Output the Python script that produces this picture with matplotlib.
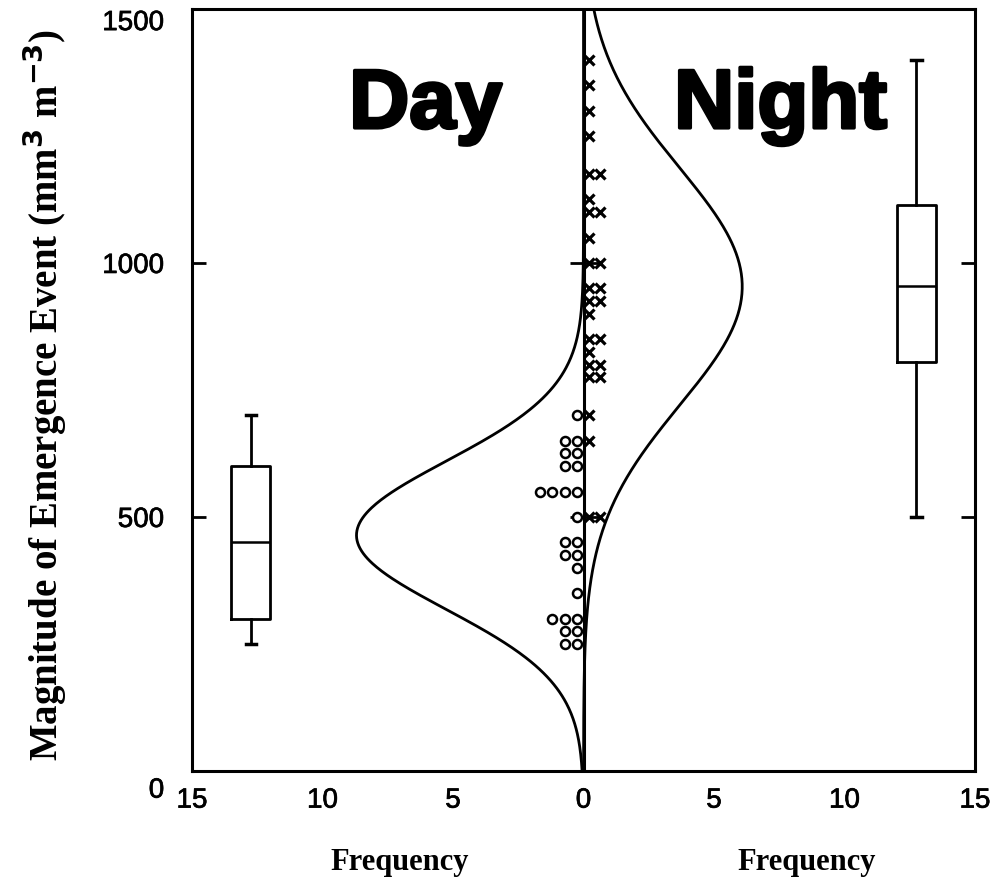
import numpy as np
import matplotlib
matplotlib.use("Agg")
import matplotlib.pyplot as plt
from matplotlib import transforms
from matplotlib import patheffects

# emergence magnitudes (mm3 m-3), one entry per event
day_events = [700, 650, 650, 625, 625, 600, 600, 550, 550, 550, 550, 500,
              450, 450, 425, 425, 400, 350, 300, 300, 300, 275, 275, 250, 250]
night_events = [1400, 1350, 1300, 1250, 1175, 1175, 1125, 1100, 1100, 1050,
                1000, 1000, 950, 950, 925, 925, 900, 850, 850, 825, 800, 800,
                775, 775, 700, 650, 500, 500]

# box plot summaries: whislo, q1, median, q3, whishi
day_box = [250, 300, 450, 600, 700]
night_box = [500, 805, 955, 1115, 1400]

bin_width = 127
xtick_pos = [-15, -10, -5, 0, 5, 10, 15]
xtick_labels = ["15", "10", "5", "0", "5", "10", "15"]
ytick_pos = [0, 500, 1000, 1500]

sans = "Liberation Sans"
serif = "Liberation Serif"
heavy = [patheffects.withStroke(linewidth=2.5, foreground="black")]
medium = [patheffects.withStroke(linewidth=0.5, foreground="black")]

fig = plt.figure(figsize=(9.94, 8.88), dpi=100)
ax = fig.add_axes([0.1932, 0.1318, 0.7877, 0.8581])
ax.set_xlim(-15, 15)
ax.set_ylim(0, 1500)


def stack_x(values, start, step):
    # place repeated values side by side like a dot histogram
    seen = {}
    xs = []
    for v in values:
        k = seen.get(v, 0)
        seen[v] = k + 1
        xs.append(start + step * k)
    return xs


dx = stack_x(day_events, -0.25, -0.47)
nx = stack_x(night_events, 0.2, 0.45)
ax.plot(dx, day_events, "o", ms=6.5, mfc="white", mec="black", mew=1.8,
        zorder=4)
ax.plot(nx, night_events, "x", ms=7.5, mec="black", mew=2.3, zorder=4)

# fitted normal curves scaled to the frequency axis
yy = np.linspace(0, 1500, 600)
for ev, sign in ((day_events, -1), (night_events, 1)):
    ev = np.array(ev, dtype=float)
    mu, sd = ev.mean(), ev.std(ddof=1)
    pdf = np.exp(-0.5 * ((yy - mu) / sd) ** 2) / (sd * np.sqrt(2 * np.pi))
    ax.plot(sign * len(ev) * bin_width * pdf, yy, color="black", lw=2.0,
            zorder=3)


def box_stats(vals):
    lo, q1, med, q3, hi = vals
    return dict(whislo=lo, q1=q1, med=med, q3=q3, whishi=hi, fliers=[])


ax.bxp([box_stats(day_box), box_stats(night_box)],
       positions=[-12.75, 12.75], widths=1.5, showfliers=False,
       manage_ticks=False,
       boxprops=dict(color="black", lw=2.0),
       whiskerprops=dict(color="black", lw=2.0),
       capprops=dict(color="black", lw=2.5),
       medianprops=dict(color="black", lw=1.8),
       capwidths=0.4)

# centre axis line with its own short ticks
ax.axvline(0, color="black", lw=2.2, zorder=2)
mid = ax.secondary_yaxis(0.5)
mid.spines["left"].set_visible(False)
mid.set_yticks([500, 1000])
mid.set_yticklabels(["", ""])
mid.yaxis.set_tick_params(which="major", direction="out", length=10,
                          width=2.0, left=True, color="black")

for s in ax.spines.values():
    s.set_linewidth(2.2)

ax.set_xticks(xtick_pos)
ax.set_xticklabels(xtick_labels, fontfamily=sans, fontsize=20,
                   path_effects=medium)
ax.set_yticks(ytick_pos)
ax.set_yticklabels([str(v) for v in ytick_pos], fontfamily=sans, fontsize=20,
                   path_effects=medium)
ax.tick_params(axis="y", direction="in", length=10, width=2.0, pad=20,
               right=True)
ax.tick_params(axis="x", direction="in", length=0, pad=12)

# end labels sit a little below their ticks
ylabels = ax.get_yticklabels()
for lab, shift in ((ylabels[0], -12), (ylabels[-1], -8)):
    lab.set_transform(lab.get_transform() +
                      transforms.ScaledTranslation(0, shift / 72,
                                                   fig.dpi_scale_trans))

ax.text(-6.05, 1266, "Day", fontfamily=sans, fontweight="bold", fontsize=60,
        ha="center", va="baseline", path_effects=heavy)
ax.text(7.55, 1266, "Night", fontfamily=sans, fontweight="bold", fontsize=60,
        ha="center", va="baseline", path_effects=heavy)

fig.text(400 / 994, 1 - 862 / 888, "Frequency", fontfamily=serif,
         fontweight="bold", fontsize=22, ha="center", va="center")
fig.text(807 / 994, 1 - 862 / 888, "Frequency", fontfamily=serif,
         fontweight="bold", fontsize=22, ha="center", va="center")
fig.text(45 / 994, 1 - 395 / 888,
         r"Magnitude of Emergence Event (mm$^{\mathbf{3}}$ m$^{\mathbf{-3}}$)",
         fontfamily=serif, fontweight="bold", fontsize=28, rotation=90,
         ha="center", va="center")

fig.savefig("out.png", dpi=100)
